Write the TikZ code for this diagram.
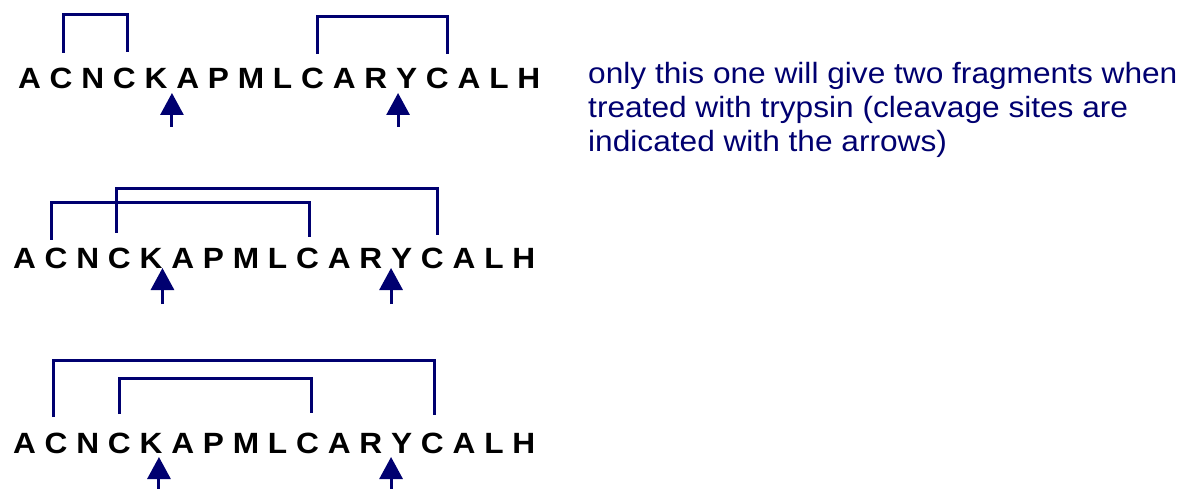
\documentclass[tikz,border=0pt]{standalone}
\usepackage{fontspec}
\setmainfont{Liberation Sans}
\newfontfamily\widesans[FakeStretch=1.08]{Liberation Sans}
\usetikzlibrary{arrows.meta}
\definecolor{navy}{RGB}{0,0,112}

% gap between residue letters (one stretched space)
\newcommand\resgap{8.8pt}

\tikzset{
  res/.style={anchor=base west, inner sep=0pt, outer sep=0pt, text=black,
    font=\widesans\bfseries\fontsize{29.3}{30}\selectfont},
  bond/.style={draw=navy, line width=3pt},
  cleave/.style={draw=navy, line width=3pt, -{Triangle[length=22pt,width=23pt]}},
  note/.style={anchor=base west, inner sep=0pt, text=navy,
    font=\widesans\fontsize{29.3}{34}\selectfont},
}

% one peptide row: #1 name prefix, #2 x of first letter, #3 baseline y
\newcommand\seqrow[3]{%
  \foreach \resname [count=\i, remember=\i as \j (initially 0)] in
      {A,C,N,C,K,A,P,M,L,C,A,R,Y,C,A,L,H}{%
    \ifnum\i=1
      \node[res] (#1-\i) at (#2,#3) {\resname};
    \else
      \node[res] (#1-\i) at ([xshift=\resgap]#1-\j.base east) {\resname};
    \fi
  }}

\begin{document}
\begin{tikzpicture}[x=1pt,y=-1pt]
  \useasboundingbox (0,0) rectangle (1186,489);
  \fill[white] (0,0) rectangle (1186,489);

  % the three disulfide arrangements
  \seqrow{r1}{18}{89}
  \seqrow{r2}{13}{269}
  \seqrow{r3}{13}{453}

  % row 1: C2-C4 and C10-C14
  \draw[bond] ([shift={(2,-36)}]r1-2.base) |- ([shift={(3.6,-74)}]r1-4.base)
              -- ([shift={(3.6,-37)}]r1-4.base);
  \draw[bond] ([shift={(4.5,-35)}]r1-10.base) |- ([shift={(9.6,-72)}]r1-14.base)
              -- ([shift={(9.6,-35)}]r1-14.base);

  % row 2: C2-C10 and C4-C14
  \draw[bond] ([shift={(-5,-29)}]r2-2.base) |- ([shift={(1.5,-66)}]r2-10.base)
              -- ([shift={(1.5,-32)}]r2-10.base);
  \draw[bond] ([shift={(-2.4,-36)}]r2-4.base) |- ([shift={(4.6,-80)}]r2-14.base)
              -- ([shift={(4.6,-34)}]r2-14.base);

  % row 3: C2-C14 and C4-C10
  \draw[bond] ([shift={(-3,-36)}]r3-2.base) |- ([shift={(1.6,-93)}]r3-14.base)
              -- ([shift={(1.6,-38)}]r3-14.base);
  \draw[bond] ([shift={(0,-39)}]r3-4.base) |- ([shift={(3.5,-75)}]r3-10.base)
              -- ([shift={(3.5,-40)}]r3-10.base);

  % trypsin cleavage sites (after K and R)
  \coordinate (r1-cutK) at ([shift={(4.5,4)}]r1-5.base east);
  \coordinate (r1-cutR) at ([shift={(10.8,4)}]r1-12.base east);
  \coordinate (r1-tailK) at ([shift={(0,34)}]r1-cutK);
  \coordinate (r1-tailR) at ([shift={(0,34)}]r1-cutR);
  \draw[cleave] (r1-tailK) -- (r1-cutK);
  \draw[cleave] (r1-tailR) -- (r1-cutR);

  \coordinate (r2-cutK) at ([shift={(0,-1)}]r2-5.base east);
  \coordinate (r2-cutR) at ([shift={(8.8,-1)}]r2-12.base east);
  \coordinate (r2-tailK) at ([shift={(0,36)}]r2-cutK);
  \coordinate (r2-tailR) at ([shift={(0,36)}]r2-cutR);
  \draw[cleave] (r2-tailK) -- (r2-cutK);
  \draw[cleave] (r2-tailR) -- (r2-cutR);

  \coordinate (r3-cutK) at ([shift={(-3.5,4)}]r3-5.base east);
  \coordinate (r3-cutR) at ([shift={(8.8,4)}]r3-12.base east);
  \coordinate (r3-tailK) at ([shift={(0,33)}]r3-cutK);
  \coordinate (r3-tailR) at ([shift={(0,33)}]r3-cutR);
  \draw[cleave] (r3-tailK) -- (r3-cutK);
  \draw[cleave] (r3-tailR) -- (r3-cutR);

  % explanation
  \node[note] (note1) at (588,84)  {only this one will give two fragments when};
  \node[note] (note2) at (588,118) {treated with trypsin (cleavage sites are};
  \node[note] (note3) at (588,152) {indicated with the arrows)};
\end{tikzpicture}
\end{document}
